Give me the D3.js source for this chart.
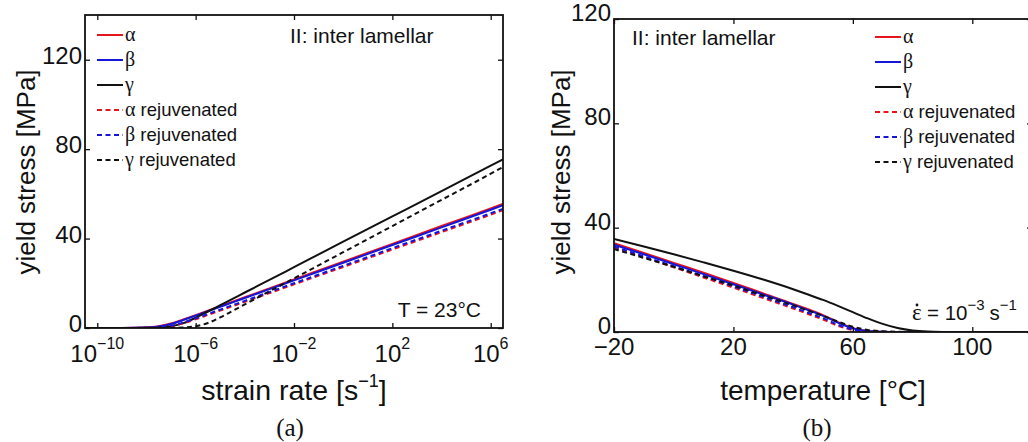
<!DOCTYPE html>
<html><head><meta charset="utf-8">
<script src="https://cdn.jsdelivr.net/npm/d3@7"></script>
<style>
body{margin:0;background:#fff}
svg{display:block}
text{font-family:"Liberation Sans",Arial,sans-serif;fill:#111}
</style></head><body>
<svg id="fig" width="1028" height="442"></svg>
<script>
// ---- (a) strain-rate sweep at T = 23 °C; rates given as powers of ten [s^-1]
const rateExp = [-10.5, -9, -8, -7.5, -7, -6.5, -6, -5.5, -5, -4.5, -4, -3, -2, 0, 2, 4, 6, 6.5];
const rateAlpha    = [0, 0.02, 0.24, 0.75, 1.98, 3.81, 5.78, 7.77, 9.76, 11.75, 13.73, 17.71, 21.7, 29.7, 37.6, 45.6, 53.5, 55.5];
const rateBeta     = [0, 0.02, 0.21, 0.67, 1.79, 3.58, 5.54, 7.51, 9.48, 11.46, 13.43, 17.38, 21.3, 29.2, 37.1, 45.0, 52.9, 54.9];
const rateGamma    = [0, 0.01, 0.08, 0.25, 0.77, 2.17, 4.58, 7.38, 10.21, 13.04, 15.88, 21.5, 27.2, 38.6, 49.9, 61.2, 72.6, 75.4];
const rateAlphaRej = [0, 0.01, 0.09, 0.27, 0.82, 2.11, 3.91, 5.86, 7.80, 9.75, 11.7, 15.6, 19.5, 27.3, 35.1, 42.9, 50.7, 52.7];
const rateBetaRej  = [0, 0.01, 0.11, 0.34, 1.02, 2.46, 4.32, 6.28, 8.23, 10.19, 12.15, 16.07, 20.0, 27.8, 35.7, 43.5, 51.3, 53.3];
const rateGammaRej = [0, 0, 0.01, 0.03, 0.08, 0.25, 0.79, 2.24, 4.73, 7.62, 10.53, 16.4, 22.2, 33.9, 45.6, 57.3, 69.0, 72.0];

// ---- (b) temperature sweep at strain rate 1e-3 s^-1
const tempC = [-20, -10, 0, 10, 20, 30, 40, 45, 50, 55, 60, 65, 70, 75, 80, 85, 90, 100, 120];
const tempAlpha    = [34.0, 30.3, 26.5, 22.7, 18.8, 14.8, 10.8, 8.7, 6.5, 3.8, 1.5, 0.4, 0.1, 0, 0, 0, 0, 0, 0];
const tempBeta     = [33.5, 29.8, 26.0, 22.2, 18.3, 14.4, 10.5, 8.4, 6.2, 3.6, 1.4, 0.4, 0.1, 0, 0, 0, 0, 0, 0];
const tempGamma    = [35.7, 32.8, 29.8, 26.7, 23.5, 20.1, 16.4, 14.4, 12.3, 10.0, 7.6, 5.2, 3.1, 1.5, 0.55, 0.15, 0.04, 0, 0];
const tempAlphaRej = [32.5, 28.7, 24.8, 20.9, 17.0, 13.0, 9.0, 6.9, 4.8, 2.4, 0.8, 0.2, 0, 0, 0, 0, 0, 0, 0];
const tempBetaRej  = [32.8, 29.0, 25.2, 21.4, 17.5, 13.5, 9.5, 7.4, 5.3, 2.8, 1.0, 0.3, 0.05, 0, 0, 0, 0, 0, 0];
const tempGammaRej = [31.8, 28.4, 25.0, 21.4, 17.8, 14.0, 10.2, 8.2, 6.2, 4.0, 2.0, 0.8, 0.3, 0.1, 0, 0, 0, 0, 0];

// tick values
const rateTickExp = [-10, -6, -2, 2, 6];
const stressTicksA = [0, 40, 80, 120];
const tempTicks = [-20, 20, 60, 100];
const stressTicksB = [0, 40, 80, 120];

// legend entries
const seriesNames = ["α", "β", "γ", "α", "β", "γ"];
const seriesSuffix = ["", "", "", " rejuvenated", " rejuvenated", " rejuvenated"];
const seriesColors = ["#e8141c", "#1616d8", "#111111", "#e8141c", "#1616d8", "#111111"];
const seriesDashed = [false, false, false, true, true, true];

const SERIF = "'Liberation Serif','Times New Roman',serif";
const svg = d3.select("#fig");

function panel(opt) {
  const g = svg.append("g");
  const { x, y, x0, x1, y0, y1 } = opt;

  // curves, clipped to the axes box
  const line = d3.line().x(d => x(d[0])).y(d => y(d[1])).curve(d3.curveMonotoneX);
  const clipId = "clip" + opt.id;
  g.append("clipPath").attr("id", clipId).append("rect")
    .attr("x", x0).attr("y", y0).attr("width", x1 - x0).attr("height", y1 - y0);
  const cg = g.append("g").attr("clip-path", `url(#${clipId})`);
  opt.series.forEach((vals, i) => {
    cg.append("path")
      .datum(opt.xs.map((xv, j) => [xv, vals[j]]))
      .attr("fill", "none")
      .attr("stroke", seriesColors[i])
      .attr("stroke-width", 2)
      .attr("stroke-dasharray", seriesDashed[i] ? "5,3.5" : null)
      .attr("d", line);
  });

  // inward ticks on all four sides
  const tick = 5;
  const strip = s => s.select(".domain").remove();
  g.append("g").attr("transform", `translate(0,${y1})`)
    .call(d3.axisBottom(x).tickValues(opt.xTicks).tickSize(-tick).tickFormat("")).call(strip);
  g.append("g").attr("transform", `translate(0,${y0})`)
    .call(d3.axisTop(x).tickValues(opt.xTicks).tickSize(-tick).tickFormat("")).call(strip);
  g.append("g").attr("transform", `translate(${x0},0)`)
    .call(d3.axisLeft(y).tickValues(opt.yTicks).tickSize(-tick).tickFormat("")).call(strip);
  g.append("g").attr("transform", `translate(${x1},0)`)
    .call(d3.axisRight(y).tickValues(opt.yTicks).tickSize(-tick).tickFormat("")).call(strip);
  g.selectAll(".tick line").attr("stroke", "#111").attr("stroke-width", 1.3);

  // frame
  g.append("rect").attr("x", x0).attr("y", y0).attr("width", x1 - x0).attr("height", y1 - y0)
    .attr("fill", "none").attr("stroke", "#111").attr("stroke-width", 1.8);

  // y tick labels
  opt.yTicks.forEach(v => {
    g.append("text").attr("x", x0 - 3).attr("y", y(v) + opt.yLabelDy)
      .attr("text-anchor", "end").attr("font-size", 24).text(v);
  });

  // x tick labels
  opt.xTicks.forEach(v => {
    const t = g.append("text").attr("x", x(v)).attr("y", y1 + opt.xLabelDy)
      .attr("text-anchor", "middle").attr("font-size", 24);
    opt.xTickText(t, v);
  });

  // legend
  opt.series.forEach((_, i) => {
    const ly = opt.legY + i * 25;
    g.append("line").attr("x1", opt.legX).attr("x2", opt.legX + 26)
      .attr("y1", ly).attr("y2", ly)
      .attr("stroke", seriesColors[i]).attr("stroke-width", 2)
      .attr("stroke-dasharray", seriesDashed[i] ? "5,3.5" : null);
    const t = g.append("text").attr("x", opt.legX + 28).attr("y", ly + 6).attr("font-size", 18.5);
    t.append("tspan").style("font-family", SERIF).attr("font-size", 20).text(seriesNames[i]);
    t.append("tspan").text(seriesSuffix[i]);
  });

  // y axis title
  g.append("text").attr("transform", `translate(${opt.yTitleX},172) rotate(-90)`)
    .attr("text-anchor", "middle").attr("font-size", 26).text("yield stress [MPa]");
  return g;
}

// (a) log strain-rate axis
const xa = d3.scaleLog().domain([Math.pow(10, -10.5), Math.pow(10, 6.5)]).range([85, 503]);
const ya = d3.scaleLinear().domain([0, 140]).range([328, 15]);
const ga = panel({
  id: "a", x: xa, y: ya, x0: 85, x1: 503, y0: 15, y1: 328,
  xs: rateExp.map(e => Math.pow(10, e)),
  series: [rateAlpha, rateBeta, rateGamma, rateAlphaRej, rateBetaRej, rateGammaRej],
  xTicks: rateTickExp.map(e => Math.pow(10, e)),
  yTicks: stressTicksA, yLabelDy: 4, xLabelDy: 34,
  xTickText: (t, v) => {
    const e = Math.round(Math.log10(v));
    t.append("tspan").text("10");
    t.append("tspan").attr("dy", -13).attr("font-size", 16).text((e < 0 ? "−" : "") + Math.abs(e));
  },
  legX: 97, legY: 35, yTitleX: 35
});
ga.append("text").attr("x", 290).attr("y", 43).attr("font-size", 21).text("II: inter lamellar");
ga.append("text").attr("x", 481).attr("y", 317).attr("font-size", 21).attr("text-anchor", "end").text("T = 23°C");
const xtA = ga.append("text").attr("x", 294).attr("y", 400).attr("text-anchor", "middle").attr("font-size", 28.5);
xtA.append("tspan").text("strain rate [s");
xtA.append("tspan").attr("dy", -13).attr("font-size", 18).text("−1");
xtA.append("tspan").attr("dy", 13).text("]");
ga.append("text").style("font-family", SERIF).attr("x", 290).attr("y", 436).attr("text-anchor", "middle")
  .attr("font-size", 25).text("(a)");

// (b) temperature axis
const xb = d3.scaleLinear().domain([-20, 120]).range([614, 1032]);
const yb = d3.scaleLinear().domain([0, 120]).range([332, 19]);
const gb = panel({
  id: "b", x: xb, y: yb, x0: 614, x1: 1032, y0: 19, y1: 332,
  xs: tempC,
  series: [tempAlpha, tempBeta, tempGamma, tempAlphaRej, tempBetaRej, tempGammaRej],
  xTicks: tempTicks, yTicks: stressTicksB, yLabelDy: 2, xLabelDy: 23,
  xTickText: (t, v) => t.text(v < 0 ? "−" + Math.abs(v) : v),
  legX: 875, legY: 37, yTitleX: 570
});
gb.append("text").attr("x", 632).attr("y", 45).attr("font-size", 21).text("II: inter lamellar");
// strain-rate annotation: epsilon with an overdot
gb.append("text").style("font-family", SERIF).attr("x", 912).attr("y", 320).attr("font-size", 23).text("ε");
gb.append("circle").attr("cx", 917).attr("cy", 305).attr("r", 1.4).attr("fill", "#111");
const ann = gb.append("text").attr("x", 927).attr("y", 320).attr("font-size", 20.5);
ann.append("tspan").text("= 10");
ann.append("tspan").attr("dy", -10).attr("font-size", 15).text("−3");
ann.append("tspan").attr("dx", 5).attr("dy", 10).text("s");
ann.append("tspan").attr("dy", -10).attr("font-size", 15).text("−1");
gb.append("text").attr("x", 823).attr("y", 400).attr("text-anchor", "middle").attr("font-size", 28)
  .text("temperature [°C]");
gb.append("text").style("font-family", SERIF).attr("x", 817).attr("y", 436).attr("text-anchor", "middle")
  .attr("font-size", 25).text("(b)");
</script>
</body></html>
